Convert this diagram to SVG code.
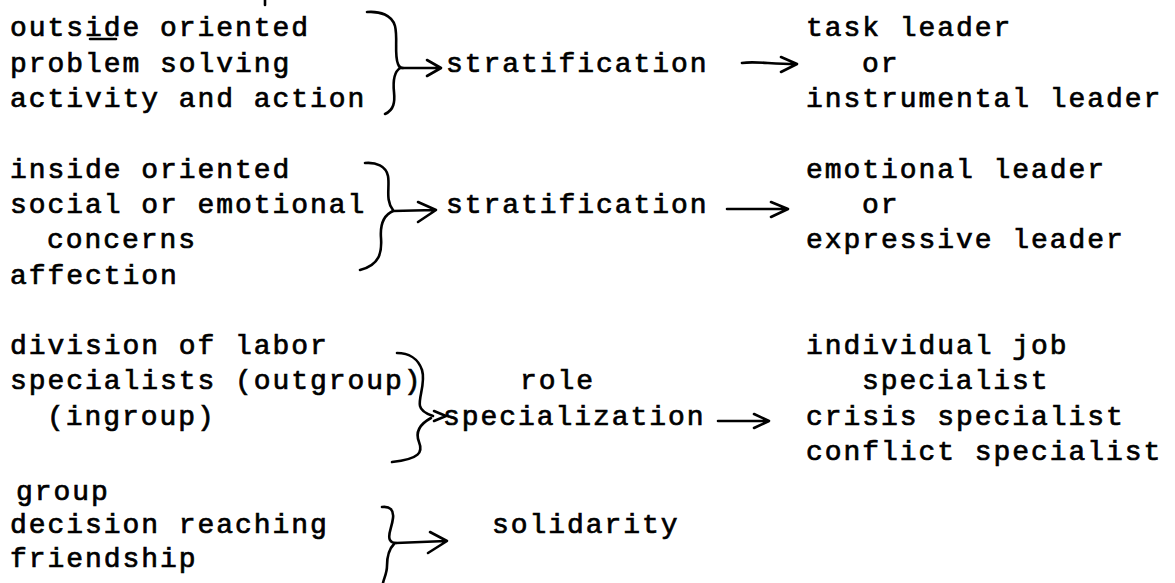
<svg xmlns="http://www.w3.org/2000/svg" width="1175" height="583" viewBox="0 0 1175 583">
<style>
.t{font-family:"Liberation Mono","Courier New",monospace;font-size:28px;letter-spacing:1.95px;fill:#000;stroke:#000;stroke-width:0.7}
.c{fill:none;stroke:#000;stroke-width:2.6;stroke-linecap:round;stroke-linejoin:round}
</style>
<rect width="1175" height="583" fill="#fff"/>
<g id="in-outside" class="t">
<text x="10" y="36">outside oriented</text>
<text x="10" y="72">problem solving</text>
<text x="10" y="107">activity and action</text>
</g>
<g id="in-inside" class="t">
<text x="10" y="178">inside oriented</text>
<text x="10" y="213">social or emotional</text>
<text x="47" y="248">concerns</text>
<text x="10" y="284">affection</text>
</g>
<g id="in-division" class="t">
<text x="10" y="354">division of labor</text>
<text x="10" y="389">specialists (outgroup)</text>
<text x="47" y="425">(ingroup)</text>
</g>
<g id="in-group" class="t">
<text x="16" y="500">group</text>
<text x="10" y="533">decision reaching</text>
<text x="10" y="567">friendship</text>
</g>
<g id="mid-strat1" class="t"><text x="446" y="72">stratification</text></g>
<g id="mid-strat2" class="t"><text x="446" y="213">stratification</text></g>
<g id="mid-role" class="t">
<text x="520" y="389">role</text>
<text x="443" y="425">specialization</text>
</g>
<g id="mid-solidarity" class="t"><text x="492" y="533">solidarity</text></g>
<g id="out-task" class="t">
<text x="806" y="36">task leader</text>
<text x="862" y="72">or</text>
<text x="806" y="107">instrumental leader</text>
</g>
<g id="out-emotional" class="t">
<text x="806" y="178">emotional leader</text>
<text x="862" y="213">or</text>
<text x="806" y="248">expressive leader</text>
</g>
<g id="out-specialist" class="t">
<text x="806" y="354">individual job</text>
<text x="862" y="389">specialist</text>
<text x="806" y="425">crisis specialist</text>
<text x="806" y="460">conflict specialist</text>
</g>
<g id="marks" class="c" stroke-width="2">
<path d="M90,39 L116,39"/>
<path d="M265,0 L265,5"/>
</g>
<g id="connectors" class="c">
<path d="M367,12 C380,11 392,15 395,26 C398,38 394,55 398,64 C399,67 401,68 403,68"/>
<path d="M400,68 C394,72 393,82 394,92 C395,102 394,110 385,114"/>
<path d="M400,68 L440,68 M427,60 L441,68 L427,76"/>
<path d="M365,163 C376,162 386,166 388,176 C390,187 385,200 393,210"/>
<path d="M393,211 C384,215 380,225 381,238 C382,252 380,265 360,270"/>
<path d="M393,211 L435,210 M418,202 L436,210 L418,222"/>
<path d="M397,353 C408,353 418,358 422,370 C426,383 418,398 420,406 C421,411 427,414 433,416"/>
<path d="M431,418 C420,424 415,432 419,442 C423,452 420,459 392,462"/>
<path d="M434,411 L446,416 L434,421"/>
<path d="M382,507 C390,506 394,510 393,518 C392,528 387,535 390,540 C391,542 393,543 396,543"/>
<path d="M394,544 C388,550 387,558 387,566 C387,573 384,578 383,583"/>
<path d="M396,543 L446,541 M430,532 L447,541 L428,553"/>
<path d="M742,63 C755,61 770,64 795,64 M781,57 L797,64 L781,72"/>
<path d="M727,209 L787,209 M771,202 L788,209 L771,217"/>
<path d="M718,421 L767,421 M754,414 L769,421 L754,428"/>
</g>
</svg>
